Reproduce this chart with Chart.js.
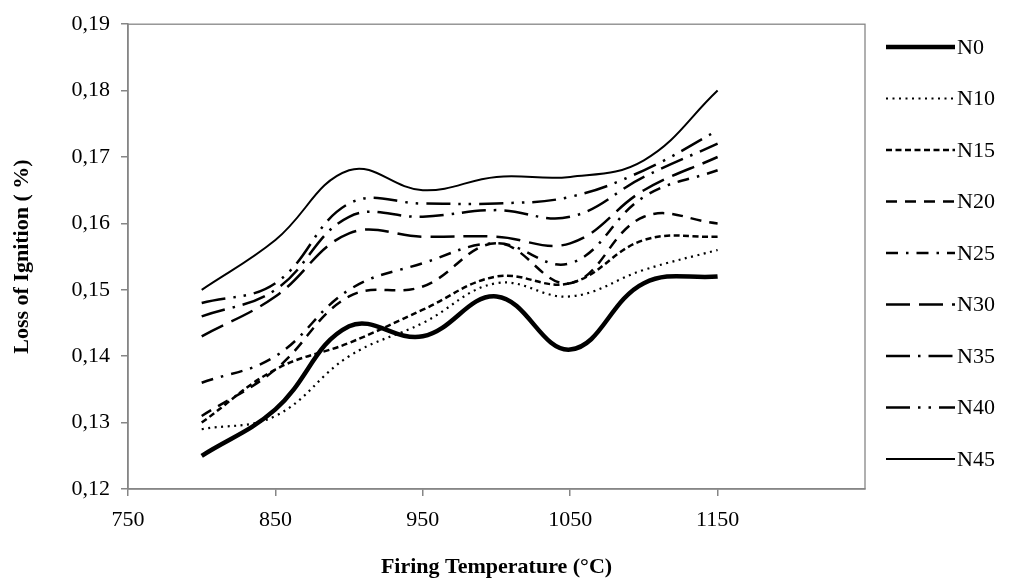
<!DOCTYPE html>
<html>
<head>
<meta charset="utf-8">
<script src="https://cdn.jsdelivr.net/npm/chart.js@4"></script>
<style>
  html, body { margin: 0; padding: 0; background: #fff; }
  #wrap { width: 1018px; height: 584px; position: relative; }
</style>
</head>
<body>
<div id="wrap"><canvas id="loiChart"></canvas></div>
<script>
// firing temperatures (°C)
const temps = [800, 850, 900, 950, 1000, 1050, 1100, 1150];

// loss of ignition per mix
const n0  = [0.125, 0.132, 0.1445, 0.143, 0.149, 0.141, 0.151, 0.152];
const n10 = [0.129, 0.131, 0.140, 0.145, 0.151, 0.149, 0.153, 0.156];
const n15 = [0.130, 0.138, 0.142, 0.147, 0.152, 0.151, 0.1575, 0.158];
const n20 = [0.131, 0.138, 0.149, 0.1505, 0.157, 0.151, 0.161, 0.160];
const n25 = [0.136, 0.140, 0.150, 0.154, 0.157, 0.154, 0.164, 0.168];
const n30 = [0.143, 0.149, 0.1585, 0.158, 0.158, 0.157, 0.165, 0.170];
const n35 = [0.146, 0.150, 0.161, 0.161, 0.162, 0.161, 0.167, 0.172];
const n40 = [0.148, 0.151, 0.163, 0.163, 0.163, 0.164, 0.168, 0.174];
const n45 = [0.150, 0.1575, 0.168, 0.165, 0.167, 0.167, 0.1695, 0.180];

const seriesNames = ['N0', 'N10', 'N15', 'N20', 'N25', 'N30', 'N35', 'N40', 'N45'];
const seriesValues = [n0, n10, n15, n20, n25, n30, n35, n40, n45];

// axis ticks
const xTicks = [750, 850, 950, 1050, 1150];
const yTicks = [0.12, 0.13, 0.14, 0.15, 0.16, 0.17, 0.18, 0.19];

// line look per series (same order as seriesNames)
const lineStyles = [
  { width: 4.5, dash: [] },
  { width: 2.2, dash: [2, 4.5] },
  { width: 2.5, dash: [6, 3.5] },
  { width: 2.5, dash: [11, 8] },
  { width: 2.5, dash: [12, 8, 2.5, 8] },
  { width: 2.5, dash: [24, 9] },
  { width: 2.5, dash: [24, 8, 2.5, 8] },
  { width: 2.5, dash: [24, 8, 2.5, 8, 2.5, 8] },
  { width: 2, dash: [] }
];

const serif = "'Liberation Serif', 'Times New Roman', serif";
const axisGray = '#868686';

const datasets = seriesNames.map(function(name, i) {
  return {
    label: name,
    data: temps.map(function(t, j) { return { x: t, y: seriesValues[i][j] }; }),
    borderColor: '#000',
    borderWidth: lineStyles[i].width,
    borderDash: lineStyles[i].dash,
    borderCapStyle: 'butt',
    pointRadius: 0,
    fill: false,
    tension: 0.4
  };
});

// plot frame + legend on the right
const frameAndLegend = {
  id: 'frameAndLegend',
  afterDraw(chart) {
    const ctx = chart.ctx;
    const a = chart.chartArea;
    ctx.save();
    ctx.strokeStyle = axisGray;
    ctx.lineWidth = 1.3;
    ctx.strokeRect(a.left, a.top, a.right - a.left, a.bottom - a.top);

    ctx.font = '22px ' + serif;
    ctx.textBaseline = 'middle';
    ctx.fillStyle = '#000';
    chart.data.datasets.forEach(function(ds, i) {
      const y = 47 + i * 51.5;
      ctx.beginPath();
      ctx.strokeStyle = '#000';
      ctx.lineWidth = ds.borderWidth;
      ctx.setLineDash(ds.borderDash);
      ctx.moveTo(886, y);
      ctx.lineTo(955, y);
      ctx.stroke();
      ctx.setLineDash([]);
      ctx.fillText(ds.label, 957, y + 1);
    });
    ctx.restore();
  }
};

const loiCtx = document.getElementById('loiChart').getContext('2d');
const loiChart = new Chart(loiCtx, {
  type: 'line',
  data: { datasets: datasets },
  options: {
    responsive: true,
    maintainAspectRatio: false,
    animation: false,
    layout: { padding: { top: 20, right: 153, left: 0, bottom: 0 } },
    plugins: {
      legend: { display: false },
      tooltip: { enabled: false }
    },
    scales: {
      x: {
        type: 'linear',
        min: 750,
        max: 1250,
        afterBuildTicks: function(scale) {
          scale.ticks = xTicks.map(function(v) { return { value: v }; });
        },
        afterFit: function(scale) { scale.height = 95; },
        border: { color: axisGray, width: 1.5 },
        grid: { drawOnChartArea: false, color: axisGray, tickLength: 7, lineWidth: 1.5 },
        ticks: {
          color: '#000',
          font: { family: serif, size: 22 },
          padding: 11,
          maxRotation: 0,
          callback: function(v) { return String(v); }
        },
        title: {
          display: true,
          text: 'Firing Temperature (°C)',
          color: '#000',
          font: { family: serif, size: 22, weight: 'bold' },
          padding: { top: 0, bottom: 3 }
        }
      },
      y: {
        min: 0.12,
        max: 0.19,
        afterBuildTicks: function(scale) {
          scale.ticks = yTicks.map(function(v) { return { value: v }; });
        },
        afterFit: function(scale) { scale.width = 128; },
        border: { color: axisGray, width: 1.5 },
        grid: { drawOnChartArea: false, color: axisGray, tickLength: 7, lineWidth: 1.5 },
        ticks: {
          color: '#000',
          font: { family: serif, size: 22 },
          padding: 11,
          callback: function(v) { return v.toFixed(2).replace('.', ','); }
        },
        title: {
          display: true,
          text: 'Loss of Ignition ( %)',
          color: '#000',
          font: { family: serif, size: 22, weight: 'bold' },
          padding: { top: 9, bottom: 0 }
        }
      }
    }
  },
  plugins: [frameAndLegend]
});
</script>
</body>
</html>
